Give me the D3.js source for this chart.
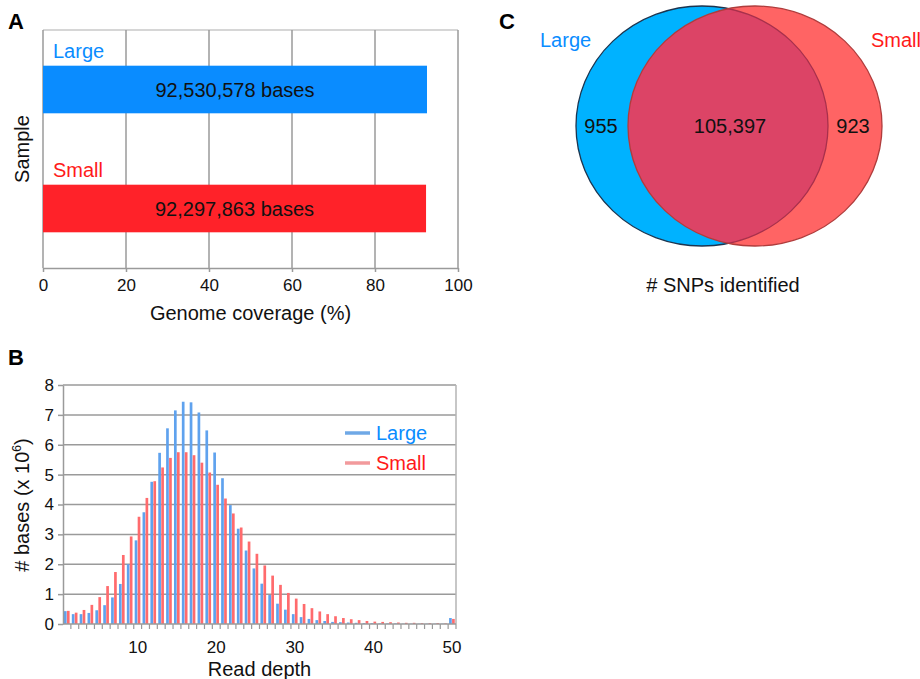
<!DOCTYPE html>
<html>
<head>
<meta charset="utf-8">
<script src="https://cdn.jsdelivr.net/npm/d3@7"></script>
<style>
  body { margin: 0; background: #fff; }
  svg text { font-family: "Liberation Sans", Arial, sans-serif; }
</style>
</head>
<body>
<div id="chart"></div>
<script>
// Panel A: genome coverage
const coverageSamples = ["Large", "Small"];
const coveragePct = [92.53, 92.30];
const coverageLabels = ["92,530,578 bases", "92,297,863 bases"];
const coverageTicks = [0, 20, 40, 60, 80, 100];

// Panel B: read depth histogram (x 10^6 bases)
const depthCategories = d3.range(1, 51);
const depthLarge = [0.43,0.33,0.33,0.37,0.46,0.63,0.89,1.34,2.0,2.8,3.74,4.76,5.73,6.55,7.15,7.44,7.42,7.08,6.48,5.74,4.88,3.98,3.19,2.46,1.86,1.35,0.97,0.68,0.48,0.33,0.23,0.17,0.13,0.10,0.07,0.06,0.05,0.04,0.03,0.03,0.02,0.02,0.02,0.01,0.01,0.01,0.01,0.01,0.01,0.20];
const depthSmall = [0.44,0.38,0.47,0.64,0.90,1.27,1.74,2.31,2.93,3.59,4.22,4.78,5.24,5.56,5.75,5.75,5.65,5.40,5.07,4.66,4.20,3.70,3.23,2.76,2.35,1.96,1.62,1.31,1.04,0.85,0.67,0.53,0.42,0.33,0.26,0.20,0.16,0.13,0.10,0.08,0.07,0.06,0.05,0.04,0.04,0.03,0.03,0.03,0.02,0.17];
const depthXTicks = [10, 20, 30, 40, 50];
const depthYTicks = [0, 1, 2, 3, 4, 5, 6, 7, 8];
const depthSeries = ["Large", "Small"];

// Panel C: SNP overlap
const vennSets = ["Large", "Small"];
const vennCounts = [955, 105397, 923]; // large only, shared, small only

const colLarge = "#0a8cff", colSmall = "#ff2229";
const labelBlue = "#0a8cff", labelRed = "#ff1a1a";
const labelSize = "20px", tickSize = "17px";

const svg = d3.select("#chart").append("svg")
  .attr("width", 920).attr("height", 679);

//---------------- A ----------------
const A = { l: 43, r: 458, t: 30, b: 268 };
svg.append("text").attr("x", 8).attr("y", 29).text("A")
  .style("font-size", "22px").style("font-weight", "bold");

const xA = d3.scaleLinear().domain([0, 100]).range([A.l, A.r]);
const yA = d3.scaleBand().domain(coverageSamples).range([A.t, A.b])
  .paddingInner(0.6).paddingOuter(0.3);

const gA = svg.append("g");
gA.append("line").attr("x1", A.l).attr("x2", A.r).attr("y1", A.t).attr("y2", A.t)
  .attr("stroke", "#c8c8c8").attr("stroke-width", 1.5);
gA.selectAll(".gridA").data(coverageTicks.slice(1)).enter().append("line")
  .attr("x1", d => xA(d)).attr("x2", d => xA(d))
  .attr("y1", A.t).attr("y2", A.b)
  .attr("stroke", "#9a9a9a").attr("stroke-width", 1.5);
gA.append("line").attr("x1", A.l).attr("x2", A.l).attr("y1", A.t).attr("y2", A.b)
  .attr("stroke", "#9a9a9a").attr("stroke-width", 1.5);

const axA = gA.append("g").attr("transform", "translate(0," + A.b + ")")
  .call(d3.axisBottom(xA).tickValues(coverageTicks).tickSize(4).tickSizeOuter(0).tickPadding(7));
axA.select(".domain").attr("stroke", "#9a9a9a").attr("stroke-width", 1.5);
axA.selectAll(".tick line").attr("stroke", "#9a9a9a").attr("stroke-width", 1.5);
axA.selectAll(".tick text").style("font-size", tickSize).attr("fill", "#111");

gA.selectAll(".barA").data(coverageSamples).enter().append("rect")
  .attr("x", xA(0)).attr("y", d => yA(d))
  .attr("width", (d, i) => xA(coveragePct[i]) - xA(0))
  .attr("height", yA.bandwidth())
  .attr("fill", (d, i) => i === 0 ? colLarge : colSmall);

gA.selectAll(".barLabel").data(coverageSamples).enter().append("text")
  .attr("x", (d, i) => (xA(0) + xA(coveragePct[i])) / 2)
  .attr("y", d => yA(d) + yA.bandwidth() / 2 + 7)
  .attr("text-anchor", "middle").style("font-size", labelSize).attr("fill", "#111")
  .text((d, i) => coverageLabels[i]);

gA.selectAll(".sampleName").data(coverageSamples).enter().append("text")
  .attr("x", A.l + 10).attr("y", d => yA(d) - 8)
  .style("font-size", labelSize)
  .attr("fill", (d, i) => i === 0 ? labelBlue : labelRed)
  .text(d => d);

gA.append("text").attr("transform", "translate(29,149) rotate(-90)")
  .attr("text-anchor", "middle").style("font-size", labelSize).attr("fill", "#111")
  .text("Sample");
gA.append("text").attr("x", (A.l + A.r) / 2).attr("y", 320)
  .attr("text-anchor", "middle").style("font-size", labelSize).attr("fill", "#111")
  .text("Genome coverage (%)");

//---------------- B ----------------
const B = { l: 63, r: 456, t: 385, b: 624 };
svg.append("text").attr("x", 8).attr("y", 365).text("B")
  .style("font-size", "22px").style("font-weight", "bold");

const xB = d3.scaleBand().domain(depthCategories).range([B.l, B.r]);
const xB2 = d3.scaleBand().domain(depthSeries).range([xB.bandwidth() * 0.12, xB.bandwidth() * 0.88]);
const yB = d3.scaleLinear().domain([0, 8]).range([B.b, B.t]);

const gB = svg.append("g");
gB.selectAll(".gridB").data(depthYTicks.slice(1)).enter().append("line")
  .attr("x1", B.l).attr("x2", B.r).attr("y1", d => yB(d)).attr("y2", d => yB(d))
  .attr("stroke", "#9a9a9a").attr("stroke-width", 1.5);
gB.append("line").attr("x1", B.r).attr("x2", B.r).attr("y1", B.t).attr("y2", B.b)
  .attr("stroke", "#b4b4b4").attr("stroke-width", 1.5);

const depthRows = depthCategories.map((c, i) => ({ c: c, Large: depthLarge[i], Small: depthSmall[i] }));
const groups = gB.selectAll(".grp").data(depthRows).enter().append("g")
  .attr("transform", d => "translate(" + xB(d.c) + ",0)");
groups.selectAll("rect").data(d => depthSeries.map(s => ({ s: s, v: d[s] }))).enter().append("rect")
  .attr("x", d => xB2(d.s)).attr("width", xB2.bandwidth() - 0.3)
  .attr("y", d => yB(d.v)).attr("height", d => yB(0) - yB(d.v))
  .attr("fill", d => d.s === "Large" ? "#5fa2ee" : "#ff6b6d");

const ayB = gB.append("g").attr("transform", "translate(" + B.l + ",0)")
  .call(d3.axisLeft(yB).tickValues(depthYTicks).tickSize(5).tickSizeOuter(0).tickPadding(4));
ayB.select(".domain").attr("stroke", "#9a9a9a").attr("stroke-width", 1.5);
ayB.selectAll(".tick line").attr("stroke", "#9a9a9a").attr("stroke-width", 1.5);
ayB.selectAll(".tick text").style("font-size", tickSize).attr("fill", "#111");

const axB = gB.append("g").attr("transform", "translate(0," + B.b + ")");
axB.append("line").attr("x1", B.l).attr("x2", B.r).attr("stroke", "#9a9a9a").attr("stroke-width", 1.5);
axB.selectAll(".mtick").data(depthCategories).enter().append("line")
  .attr("x1", d => xB(d) + xB.bandwidth()).attr("x2", d => xB(d) + xB.bandwidth())
  .attr("y1", 0).attr("y2", 5).attr("stroke", "#9a9a9a").attr("stroke-width", 1.2);
axB.selectAll(".xlab").data(depthXTicks).enter().append("text")
  .attr("x", d => xB(d) + xB.bandwidth() / 2).attr("y", 29)
  .attr("text-anchor", "middle").style("font-size", tickSize).attr("fill", "#111")
  .text(d => d);

gB.append("text").attr("transform", "translate(29,505) rotate(-90)")
  .attr("text-anchor", "middle").style("font-size", labelSize).attr("fill", "#111")
  .html('# bases (x 10<tspan dy="-8" style="font-size:12px">6</tspan><tspan dy="8">)</tspan>');
gB.append("text").attr("x", (B.l + B.r) / 2).attr("y", 676)
  .attr("text-anchor", "middle").style("font-size", labelSize).attr("fill", "#111")
  .text("Read depth");

const legB = gB.selectAll(".legB").data(depthSeries).enter().append("g")
  .attr("transform", (d, i) => "translate(345," + (433 + i * 30) + ")");
legB.append("line").attr("x1", 0).attr("x2", 25)
  .attr("stroke", d => d === "Large" ? "#6fa8e6" : "#f29a9c").attr("stroke-width", 3.5);
legB.append("text").attr("x", 31).attr("y", 7).style("font-size", labelSize)
  .attr("fill", d => d === "Large" ? labelBlue : labelRed).text(d => d);

//---------------- C ----------------
svg.append("text").attr("x", 499).attr("y", 29).text("C")
  .style("font-size", "22px").style("font-weight", "bold");

const ells = [
  { name: vennSets[0], cx: 702, cy: 126, rx: 126, ry: 120 },
  { name: vennSets[1], cx: 755, cy: 126, rx: 127, ry: 120 }
];
const gC = svg.append("g");
const defs = svg.append("defs");
defs.append("clipPath").attr("id", "clipLarge").append("ellipse")
  .attr("cx", ells[0].cx).attr("cy", ells[0].cy).attr("rx", ells[0].rx).attr("ry", ells[0].ry);
defs.append("clipPath").attr("id", "clipSmall").append("ellipse")
  .attr("cx", ells[1].cx).attr("cy", ells[1].cy).attr("rx", ells[1].rx).attr("ry", ells[1].ry);

gC.append("ellipse").attr("cx", ells[0].cx).attr("cy", ells[0].cy)
  .attr("rx", ells[0].rx).attr("ry", ells[0].ry)
  .attr("fill", "#00b2ff").attr("stroke", "#1c3550").attr("stroke-width", 1.3);
gC.append("ellipse").attr("cx", ells[1].cx).attr("cy", ells[1].cy)
  .attr("rx", ells[1].rx).attr("ry", ells[1].ry)
  .attr("fill", "#ff6464");
gC.append("ellipse").attr("cx", ells[1].cx).attr("cy", ells[1].cy)
  .attr("rx", ells[1].rx).attr("ry", ells[1].ry)
  .attr("clip-path", "url(#clipLarge)").attr("fill", "#dc4466");
gC.append("ellipse").attr("cx", ells[0].cx).attr("cy", ells[0].cy)
  .attr("rx", ells[0].rx).attr("ry", ells[0].ry)
  .attr("clip-path", "url(#clipSmall)").attr("fill", "none")
  .attr("stroke", "#a8304c").attr("stroke-width", 1.3);
gC.append("ellipse").attr("cx", ells[1].cx).attr("cy", ells[1].cy)
  .attr("rx", ells[1].rx).attr("ry", ells[1].ry)
  .attr("fill", "none").attr("stroke", "#b03c3c").attr("stroke-width", 1.3);

const fmt = d3.format(",");
const countPos = [601, 730, 853];
gC.selectAll(".cnt").data(vennCounts).enter().append("text")
  .attr("x", (d, i) => countPos[i]).attr("y", 133)
  .attr("text-anchor", "middle").style("font-size", labelSize).attr("fill", "#111")
  .text(d => fmt(d));

gC.append("text").attr("x", 540).attr("y", 47).style("font-size", labelSize)
  .attr("fill", labelBlue).text(vennSets[0]);
gC.append("text").attr("x", 871).attr("y", 47).style("font-size", labelSize)
  .attr("fill", labelRed).text(vennSets[1]);
gC.append("text").attr("x", 723).attr("y", 292).attr("text-anchor", "middle")
  .style("font-size", labelSize).attr("fill", "#111").text("# SNPs identified");
</script>
</body>
</html>
